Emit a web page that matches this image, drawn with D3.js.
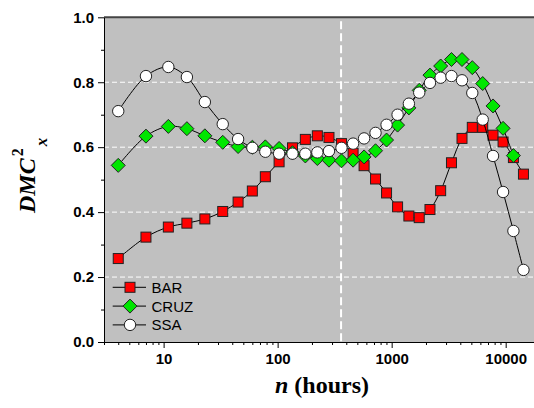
<!DOCTYPE html>
<html>
<head>
<meta charset="utf-8">
<script src="https://cdn.jsdelivr.net/npm/d3@7/dist/d3.min.js"></script>
<style>
  body { margin: 0; background: #fff; }
  svg { display: block; }
</style>
</head>
<body>
<div id="chart"></div>
<script>
// time lags (hours)
var hours = [4, 7, 11, 16, 23, 33, 45, 60, 78, 103, 135, 175, 223, 282, 363, 459,
             573, 722, 902, 1127, 1416, 1745, 2168, 2690, 3347, 4140, 5096, 6289,
             7746, 9487, 11690, 14320];

var barVals  = [0.257, 0.323, 0.354, 0.366, 0.379, 0.402, 0.431, 0.465, 0.509, 0.555,
                0.598, 0.624, 0.635, 0.630, 0.611, 0.581, 0.543, 0.502, 0.459, 0.416,
                0.388, 0.383, 0.408, 0.466, 0.552, 0.627, 0.661, 0.661, 0.637, 0.616,
                0.568, 0.517];
var cruzVals = [0.544, 0.634, 0.664, 0.657, 0.635, 0.615, 0.602, 0.600, 0.601, 0.596,
                0.583, 0.573, 0.565, 0.560, 0.558, 0.560, 0.570, 0.589, 0.622, 0.668,
                0.721, 0.775, 0.822, 0.850, 0.870, 0.870, 0.845, 0.796, 0.727, 0.658,
                0.574, null];
var ssaVals  = [0.711, 0.819, 0.847, 0.816, 0.739, 0.671, 0.625, 0.598, 0.586, 0.580,
                0.580, 0.580, 0.584, 0.588, 0.598, 0.611, 0.627, 0.644, 0.669, 0.700,
                0.734, 0.768, 0.798, 0.814, 0.819, 0.806, 0.767, 0.685, 0.573, 0.462,
                0.342, 0.222];

var seriesNames = ['BAR', 'CRUZ', 'SSA'];
var yTicks = [0, 0.2, 0.4, 0.6, 0.8, 1.0];
var xTicks = [10, 100, 1000, 10000];
var gridVals = [0.2, 0.4, 0.6, 0.8];
var markLine = 360;   // vertical dashed marker (hours)

var W = 534, H = 408;
var pLeft = 104, pTop = 17.3, pRight = 540, pBottom = 342;

var svg = d3.select('#chart').append('svg')
  .attr('width', W).attr('height', H);

var x = d3.scaleLog().domain([3, 20000]).range([pLeft, pRight]);
var y = d3.scaleLinear().domain([0, 1]).range([pBottom, pTop]);

// plot background
svg.append('rect')
  .attr('x', pLeft).attr('y', pTop)
  .attr('width', pRight - pLeft).attr('height', pBottom - pTop)
  .attr('fill', '#c0c0c0');

// horizontal dashed grid
svg.append('g').selectAll('line')
  .data(gridVals).join('line')
  .attr('x1', pLeft).attr('x2', pRight)
  .attr('y1', function(d){ return y(d); }).attr('y2', function(d){ return y(d); })
  .attr('stroke', '#fff').attr('stroke-width', 1)
  .attr('stroke-dasharray', '5,3');

// vertical marker
svg.append('line')
  .attr('x1', x(markLine)).attr('x2', x(markLine))
  .attr('y1', pTop + 4).attr('y2', pBottom)
  .attr('stroke', '#fff').attr('stroke-width', 2)
  .attr('stroke-dasharray', '8,4');

// top frame
svg.append('line')
  .attr('x1', pLeft).attr('x2', pRight).attr('y1', pTop).attr('y2', pTop)
  .attr('stroke', '#444').attr('stroke-width', 2);

var tickFont = function(sel) {
  sel.style('font-family', 'Arial, "Liberation Sans", sans-serif')
    .style('font-weight', 'bold').style('font-size', '15px').attr('fill', '#000');
};

// axes
var yAxis = d3.axisLeft(y).tickValues(yTicks).tickFormat(d3.format('.1f')).tickSize(6).tickSizeOuter(0);
var gy = svg.append('g').attr('transform', 'translate(' + pLeft + ',0)').call(yAxis);
gy.selectAll('text').call(tickFont).attr('x', -10);
gy.select('.domain').attr('stroke', '#000');

var yMinor = d3.axisLeft(y).tickValues(d3.range(0.1, 1, 0.2)).tickSize(3).tickFormat('').tickSizeOuter(0);
svg.append('g').attr('transform', 'translate(' + pLeft + ',0)').call(yMinor)
  .select('.domain').remove();

var xAxis = d3.axisBottom(x).tickValues(xTicks).tickFormat(d3.format('d')).tickSize(6).tickSizeOuter(0);
var gx = svg.append('g').attr('transform', 'translate(0,' + pBottom + ')').call(xAxis);
gx.selectAll('text').call(tickFont).attr('y', 11);
gx.select('.domain').attr('stroke', '#000');

var minorX = [];
[1, 10, 100, 1000, 10000].forEach(function(p){
  for (var k = 2; k <= 9; k++) {
    var v = p * k;
    if (v >= 3 && v <= 20000) minorX.push(v);
  }
});
svg.append('g').attr('transform', 'translate(0,' + pBottom + ')')
  .call(d3.axisBottom(x).tickValues(minorX).tickSize(3).tickFormat('').tickSizeOuter(0))
  .select('.domain').remove();

// series
var colors = { BAR: '#ff0000', CRUZ: '#00e600', SSA: '#ffffff' };
var allVals = { BAR: barVals, CRUZ: cruzVals, SSA: ssaVals };

function drawMarker(g, name) {
  if (name === 'BAR') {
    g.append('rect').attr('x', -5).attr('y', -5).attr('width', 10).attr('height', 10);
  } else if (name === 'CRUZ') {
    g.append('path').attr('d', 'M0,-7L7,0L0,7L-7,0Z');
  } else {
    g.append('circle').attr('r', 5.7);
  }
  g.selectAll('*').attr('fill', colors[name]).attr('stroke', '#222').attr('stroke-width', 1);
}

var line = d3.line()
  .x(function(d){ return x(d[0]); })
  .y(function(d){ return y(d[1]); })
  .curve(d3.curveCatmullRom.alpha(0.5));

seriesNames.forEach(function(name) {
  var pts = hours.map(function(h, i){ return [h, allVals[name][i]]; })
    .filter(function(d){ return d[1] != null; });
  var g = svg.append('g');
  g.append('path').datum(pts)
    .attr('d', line).attr('fill', 'none')
    .attr('stroke', '#000').attr('stroke-width', 1);
  g.selectAll('g.pt').data(pts).join('g')
    .attr('class', 'pt')
    .attr('transform', function(d){ return 'translate(' + x(d[0]) + ',' + y(d[1]) + ')'; })
    .each(function(){ drawMarker(d3.select(this), name); });
});

// legend
var leg = svg.append('g');
seriesNames.forEach(function(name, i) {
  var ly = 287.3 + i * 18.8;
  leg.append('line').attr('x1', 112.7).attr('x2', 146).attr('y1', ly).attr('y2', ly)
    .attr('stroke', '#000').attr('stroke-width', 1);
  var m = leg.append('g').attr('transform', 'translate(130,' + ly + ')');
  drawMarker(m, name);
  leg.append('text').attr('x', 151.5).attr('y', ly + 5.5)
    .style('font-family', 'Arial, "Liberation Sans", sans-serif')
    .style('font-size', '15px').text(name);
});

// axis titles
var xt = svg.append('text')
  .attr('x', (pLeft + pRight) / 2).attr('y', 393)
  .attr('text-anchor', 'middle')
  .style('font-family', '"Times New Roman", "Liberation Serif", serif')
  .style('font-weight', 'bold').style('font-size', '24px');
xt.append('tspan').style('font-style', 'italic').text('n');
xt.append('tspan').text(' (hours)');

var yt = svg.append('text')
  .attr('transform', 'rotate(-90)')
  .attr('x', -213).attr('y', 35)
  .style('font-family', '"Times New Roman", "Liberation Serif", serif')
  .style('font-weight', 'bold').style('font-style', 'italic').style('font-size', '24px');
yt.append('tspan').text('DMC');
yt.append('tspan').style('font-size', '16px').style('font-style', 'normal').attr('dx', 2).attr('dy', -12).text('2');
yt.append('tspan').style('font-size', '17px').attr('dx', 2).attr('dy', 24).text('x');
</script>
</body>
</html>
